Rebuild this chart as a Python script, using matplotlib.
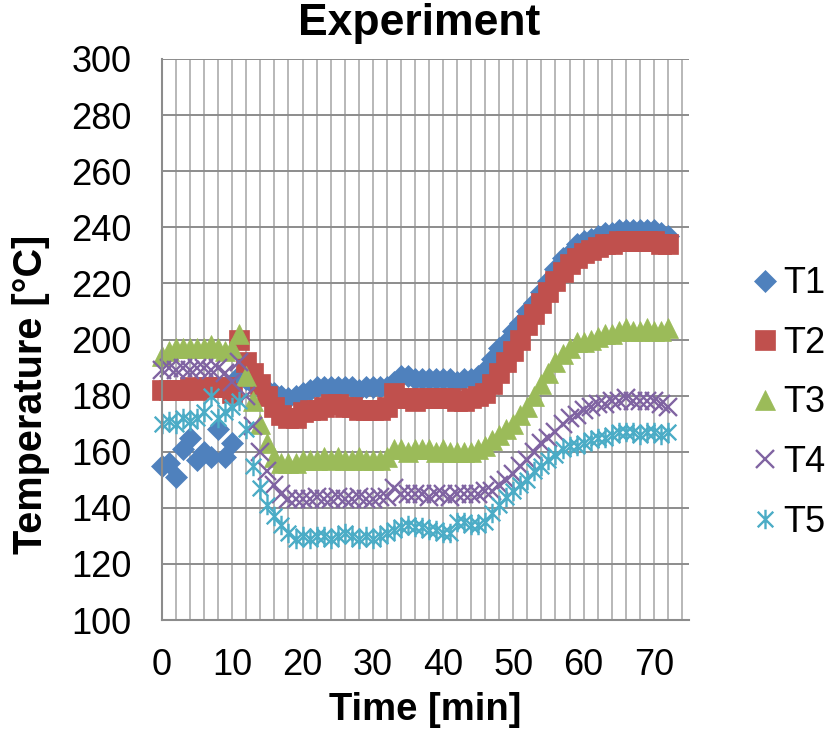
import numpy as np
import matplotlib
matplotlib.use("Agg")
import matplotlib.pyplot as plt
from matplotlib.path import Path
from matplotlib.ticker import MultipleLocator, FixedLocator

plt.rcParams['font.family'] = ['Liberation Sans', 'DejaVu Sans']

# Time in minutes (one reading per minute)
time_min = np.arange(0, 73)

T1 = [155, 156, 151, 161, 165, 157, 160, 158, 168, 158, 163, 187, 186, 184, 183, 182,
      181, 180, 179, 180, 181, 182, 183, 183, 183, 183, 183, 183, 182, 183, 183, 183,
      183, 185, 187, 187, 186, 186, 186, 186, 186, 186, 185, 186, 186, 187, 189, 193,
      197, 199, 203, 206, 210, 213, 217, 221, 225, 229, 231, 234, 235, 236, 237, 238,
      238, 239, 239, 239, 239, 239, 239, 238, 237]
T2 = [182, 182, 182, 182, 183, 182, 183, 183, 183, 183, 181, 200, 192, 188, 184, 180,
      176, 173, 172, 172, 174, 175, 175, 176, 177, 177, 176, 176, 175, 175, 175, 175,
      176, 181, 179, 179, 178, 179, 179, 179, 179, 179, 178, 178, 179, 180, 181, 184,
      188, 192, 196, 200, 205, 209, 213, 217, 221, 224, 227, 229, 231, 232, 233, 234,
      234, 235, 235, 235, 235, 235, 235, 234, 234]
T3 = [194, 196, 197, 197, 197, 197, 197, 198, 197, 196, 197, 202, 187, 178, 170, 163,
      158, 156, 156, 156, 157, 157, 157, 158, 157, 158, 157, 157, 158, 157, 157, 157,
      158, 161, 161, 160, 161, 161, 161, 160, 161, 160, 160, 160, 160, 161, 162, 164,
      166, 168, 170, 173, 176, 180, 184, 188, 192, 195, 197, 199, 199, 200, 201, 202,
      202, 203, 204, 203, 203, 204, 203, 203, 204]
T4 = [189, 190, 189, 190, 189, 190, 190, 189, 190, 188, 185, 192, 180, 169, 160, 153,
      148, 145, 143, 143, 143, 143, 144, 143, 143, 144, 143, 143, 144, 143, 143, 144,
      144, 147, 145, 145, 145, 145, 144, 145, 145, 144, 145, 145, 145, 145, 146, 146,
      148, 150, 152, 155, 157, 160, 163, 165, 167, 170, 172, 173, 175, 176, 177, 177,
      178, 178, 179, 178, 178, 178, 178, 177, 176]
T5 = [170, 171, 170, 172, 171, 172, 174, 180, 172, 174, 176, 178, 168, 155, 147, 141,
      137, 134, 131, 129, 130, 129, 130, 130, 129, 130, 131, 130, 129, 130, 129, 130,
      131, 132, 133, 134, 133, 133, 132, 132, 131, 131, 135, 135, 134, 134, 135, 138,
      141, 144, 146, 148, 150, 153, 155, 157, 159, 161, 162, 162, 163, 164, 165, 165,
      166, 167, 167, 167, 166, 167, 167, 166, 167]

series_names = ["T1", "T2", "T3", "T4", "T5"]
series_values = [T1, T2, T3, T4, T5]
colors = ["#4F81BD", "#C0504D", "#9BBB59", "#8064A2", "#4BACC6"]

# Star marker: an "x" crossed by a vertical stroke
star_path = Path(
    [(-1, -1), (1, 1), (-1, 1), (1, -1), (0, -1.25), (0, 1.25)],
    [Path.MOVETO, Path.LINETO, Path.MOVETO, Path.LINETO, Path.MOVETO, Path.LINETO],
)

styles = [
    dict(marker="D", markersize=11.5),
    dict(marker="s", markersize=14),
    dict(marker="^", markersize=15),
    dict(marker="x", markersize=13, markeredgewidth=1.7),
    dict(marker=star_path, markersize=14, markeredgewidth=1.7),
]
line_only = [False, False, False, True, True]

fig = plt.figure(figsize=(8.27, 7.29), dpi=100)
ax = fig.add_axes([162 / 827, 1 - 620 / 729, (689 - 162) / 827, (620 - 59) / 729])

for name, vals, col, st, lo in zip(series_names, series_values, colors, styles, line_only):
    kw = dict(st)
    if lo:
        kw.update(markerfacecolor="none", markeredgecolor=col)
    else:
        kw.update(markerfacecolor=col, markeredgecolor=col, markeredgewidth=0.5)
    ax.plot(time_min, vals, linestyle="none", label=name, clip_on=False, **kw)

ax.set_xlim(0, 75)
ax.set_ylim(100, 300)
ax.xaxis.set_major_locator(FixedLocator(range(0, 71, 10)))
ax.xaxis.set_minor_locator(FixedLocator(range(0, 75, 2)))
ax.yaxis.set_major_locator(MultipleLocator(20))

ax.grid(True, axis="x", which="both", color="#B8B8B8", linewidth=1.4)
ax.grid(True, axis="y", which="major", color="#8C8C8C", linewidth=1.4)
ax.set_axisbelow(True)

for side in ("top", "right"):
    ax.spines[side].set_visible(False)
for side in ("left", "bottom"):
    ax.spines[side].set_color("#8C8C8C")
    ax.spines[side].set_linewidth(1.5)

ax.tick_params(axis="both", which="both", length=0, labelsize=26)
ax.tick_params(axis="x", pad=20)
ax.tick_params(axis="y", pad=22)

fig.text(419 / 827, 1 - 24 / 729, "Experiment", ha="center", va="center",
         fontsize=32, fontweight="bold")
fig.text(425 / 827, 1 - 710 / 729, "Time [min]", ha="center", va="center",
         fontsize=27.5, fontweight="bold")
fig.text(31 / 827, 1 - 394 / 729, "Temperature [°C]", ha="center", va="center",
         rotation=90, fontsize=28.5, fontweight="bold")

fig.legend(loc="center left", bbox_to_anchor=(754 / 827, 1 - 403 / 729),
           frameon=False, fontsize=26, handlelength=0.6, handletextpad=0.2,
           labelspacing=0.68, borderpad=0, borderaxespad=0, markerscale=1.0)

fig.savefig("out.png", dpi=100)
